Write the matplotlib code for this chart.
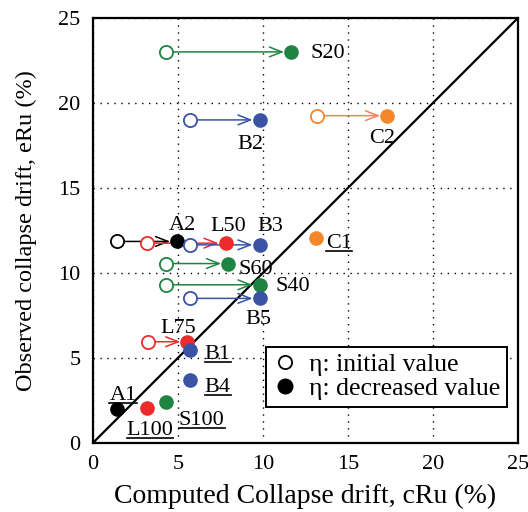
import matplotlib
matplotlib.use('Agg')
from matplotlib import pyplot as plt
from matplotlib.lines import Line2D

plt.rcParams['font.family'] = ['Liberation Serif', 'DejaVu Serif']

# specimens where eta was decreased (open -> filled)
names = ['S20', 'B2', 'C2', 'A2', 'L50', 'B3', 'S60', 'S40', 'B5', 'L75']
init_x = [4.3, 5.7, 13.2, 1.4, 3.2, 5.7, 4.3, 4.3, 5.7, 3.25]
dec_x = [11.65, 9.8, 17.3, 4.95, 7.8, 9.8, 7.95, 9.8, 9.8, 5.55]
obs_y = [23.0, 19.0, 19.25, 11.85, 11.75, 11.65, 10.55, 9.3, 8.5, 5.95]
colors = ['g', 'b', 'o', 'k', 'r', 'b', 'g', 'g', 'b', 'r']

# specimens with only one value
single_names = ['C1', 'B1', 'B4', 'A1', 'L100', 'S100']
single_x = [13.15, 5.7, 5.7, 1.4, 3.2, 4.3]
single_y = [12.05, 5.45, 3.7, 2.0, 2.05, 2.4]
single_colors = ['o', 'b', 'b', 'k', 'r', 'g']

palette = {'g': '#1f8441', 'b': '#3a53a4', 'o': '#f5862a', 'k': '#000000', 'r': '#ee2b2b'}
arrow_pal = {'g': '#1f8441', 'b': '#3a53a4', 'o': '#f2825e', 'k': '#000000', 'r': '#ee2b2b'}

# label offsets (points, from the filled marker to the text baseline)
lab_off = {'S20': (13.7, -4.2, 'left'), 'B2': (-6.8, -21.1, 'center'),
           'C2': (-3.6, -19.4, 'center'), 'C1': (7.2, -7.4, 'left'),
           'A2': (4.0, 7.9, 'center'), 'L50': (2.2, 9.1, 'center'),
           'B3': (8.1, 10.3, 'center'), 'S60': (7.2, -7.2, 'left'),
           'S40': (11.5, -4.3, 'left'), 'B5': (-1.2, -18.5, 'center'),
           'L75': (-6.8, 6.0, 'center'), 'B1': (10.8, -6.0, 'left'),
           'B4': (10.8, -8.4, 'left'), 'A1': (4.6, 6.7, 'center'),
           'L100': (1.9, -19.2, 'center'), 'S100': (25.7, -16.8, 'center')}
underlined = ['C1', 'B1', 'B4', 'A1', 'L100', 'S100']

fig = plt.figure(figsize=(5.28, 5.12), dpi=100)
ax = fig.add_axes([0.176, 0.135, 0.805, 0.83])

ax.plot([0, 25], [0, 25], color='k', lw=1.6, zorder=2)

ms = 9.5
for n, x0, x1, y, c in zip(names, init_x, dec_x, obs_y, colors):
    ax.annotate('', xy=(x1, y), xytext=(x0, y),
                arrowprops=dict(arrowstyle='->,head_length=0.9,head_width=0.35',
                                color=arrow_pal[c], lw=1.1, shrinkA=5, shrinkB=5),
                zorder=3)
    ax.plot(x0, y, 'o', ms=ms, mfc='white', mec=palette[c], mew=1.3, zorder=4)
    ax.plot(x1, y, 'o', ms=ms, mfc=palette[c], mec=palette[c], zorder=4)

for x, y, c in zip(single_x, single_y, single_colors):
    ax.plot(x, y, 'o', ms=ms, mfc=palette[c], mec=palette[c], zorder=4)

under = []
all_pts = list(zip(names, dec_x, obs_y)) + list(zip(single_names, single_x, single_y))
for n, x, y in all_pts:
    dx, dy, ha = lab_off[n]
    t = ax.annotate(n, xy=(x, y), xytext=(dx, dy), textcoords='offset points',
                    ha=ha, va='baseline', fontsize=16, zorder=5)
    if n in underlined:
        under.append((t, x, y, dy))

ax.set_xlim(0, 25)
ax.set_ylim(0, 25)
ax.set_xticks([0, 5, 10, 15, 20, 25])
ax.set_yticks([0, 5, 10, 15, 20, 25])
ax.tick_params(length=0, labelsize=16, pad=9)
ax.grid(True, color='k', linestyle=(0, (1, 4)), lw=1.0)
for s in ax.spines.values():
    s.set_linewidth(1.6)

ax.set_xlabel('Computed Collapse drift, cRu (%)', fontsize=20, labelpad=7)
ax.set_ylabel('Observed collapse drift, eRu (%)', fontsize=17.5, labelpad=15)

handles = [Line2D([], [], marker='o', ls='', ms=9.5, mfc='white', mec='k', mew=1.3),
           Line2D([], [], marker='o', ls='', ms=10.5, mfc='k', mec='k')]
leg = ax.legend(handles, ['η: initial value', 'η: decreased value'],
                loc='lower right', bbox_to_anchor=(0.974, 0.085), fontsize=18.5,
                fancybox=False, framealpha=1, edgecolor='k', handletextpad=0.45,
                borderpad=0.25, labelspacing=0.05, handlelength=1.0,
                borderaxespad=0)
leg.get_frame().set_linewidth(1.4)

# underline some labels, a little below the baseline
fig.canvas.draw()
r = fig.canvas.get_renderer()
inv = fig.transFigure.inverted()
for t, x, y, dy in under:
    bb = t.get_window_extent(r)
    base = ax.transData.transform((x, y))[1] + dy * fig.dpi / 72 - 3
    (fx0, fy), (fx1, _) = inv.transform([(bb.x0, base), (bb.x1, base)])
    fig.add_artist(Line2D([fx0, fx1], [fy, fy], color='k', lw=1.2))

fig.savefig('out.png', dpi=100)
